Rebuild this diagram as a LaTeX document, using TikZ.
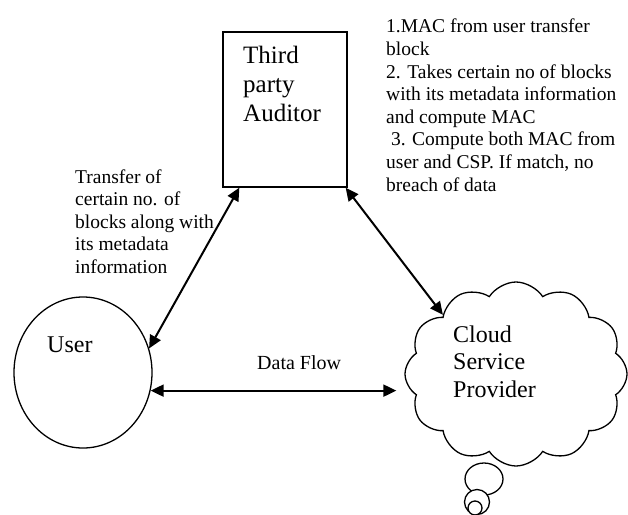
\documentclass[tikz,border=0pt]{standalone}
\usepackage{fontspec}
\setmainfont{Liberation Serif}
\usetikzlibrary{shapes.geometric,shapes.symbols,arrows.meta,calc}
\begin{document}
\begin{tikzpicture}[x=1pt,y=-1pt,
  shapeline/.style={draw=black,line width=1.3pt},
  arr/.style={line width=2pt,{Triangle[length=13pt,width=12pt]}-{Triangle[length=13pt,width=12pt]}},
  lbl/.style={inner sep=0pt,align=left,anchor=base west},
  bubble/.style={shapeline,fill=white,circle,inner sep=0pt}]
\useasboundingbox (0,0) rectangle (628,514);
% shapes
\node[shapeline,rectangle,minimum width=124pt,minimum height=155pt,inner sep=0pt] (tpa) at (285,109.5) {};
\node[shapeline,ellipse,minimum width=138pt,minimum height=151pt,inner sep=0pt] (user) at (83,372.5) {};
\node[shapeline,cloud,cloud puffs=12,cloud puff arc=115,cloud ignores aspect,minimum width=222pt,minimum height=184pt,inner sep=0pt] (csp) at (516,374) {};
\node[bubble,ellipse,minimum width=38pt,minimum height=32pt] (b1) at (484,479) {};
\node[bubble,minimum size=25pt] (b2) at (477,502) {};
\node[bubble,minimum size=14pt] (b3) at (475,508) {};
% texts (base = baseline of the last line)
\node[lbl,font=\fontsize{25}{29}\selectfont] (tpalbl) at (243,121) {Third\\party\\Auditor};
\node[lbl,font=\fontsize{24}{27.5}\selectfont] (userlbl) at (47,352) {User};
\node[lbl,font=\fontsize{24}{27.5}\selectfont] (csplbl) at (453,397) {Cloud\\Service\\Provider};
\node[lbl,font=\fontsize{19.5}{22.5}\selectfont] (xferlbl) at (75,273) {Transfer of\\certain no. of\\blocks along with\\its metadata\\information};
\node[lbl,font=\fontsize{20}{23}\selectfont] (dflbl) at (257,369) {Data Flow};
\node[lbl,font=\fontsize{19.5}{22.6}\selectfont] (steps) at (386,191) {1.MAC from user transfer\\block\\2. Takes certain no of blocks\\with its metadata information\\and compute MAC\\\ 3. Compute both MAC from\\user and CSP. If match, no\\breach of data};
% connectors
\draw[arr] (user.20) -- ($(tpa.south west)+(17,0)$);
\draw[arr] ($(tpa.south east)+(-2,0)$) -- (csp.141);
\draw[arr] (user.-15) -- ($(user.-15 -| csp.west)+(-8,0)$);
\end{tikzpicture}
\end{document}
